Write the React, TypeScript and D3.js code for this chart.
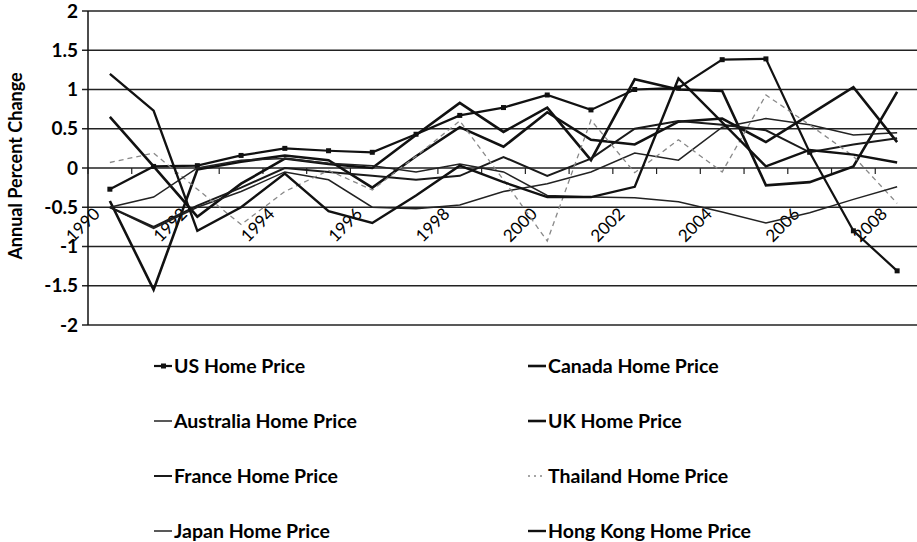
import React, { useEffect, useRef } from "react";
import * as d3 from "d3";

// years on the category axis
const years = [1990, 1991, 1992, 1993, 1994, 1995, 1996, 1997, 1998, 1999, 2000, 2001, 2002, 2003, 2004, 2005, 2006, 2007, 2008];
const yTicks = [-2, -1.5, -1, -0.5, 0, 0.5, 1, 1.5, 2];

// series values
const usHome = [-0.27, 0.02, 0.03, 0.16, 0.25, 0.22, 0.2, 0.43, 0.67, 0.77, 0.93, 0.74, 1.0, 1.02, 1.38, 1.39, 0.2, -0.8, -1.31];
const canadaHome = [0.65, 0.02, -0.62, -0.2, 0.12, 0.05, 0.0, 0.42, 0.83, 0.46, 0.77, 0.1, 1.13, 1.0, 0.98, -0.22, -0.18, 0.02, 0.97];
const australiaHome = [-0.5, -0.77, -0.5, -0.3, -0.05, -0.15, -0.5, -0.52, -0.47, -0.3, -0.2, -0.05, 0.19, 0.1, 0.52, 0.63, 0.55, 0.42, 0.45];
const ukHome = [-0.42, -1.55, -0.02, 0.08, 0.16, 0.1, -0.25, 0.15, 0.52, 0.27, 0.71, 0.36, 0.3, 0.59, 0.63, 0.33, 0.68, 1.03, 0.33];
const franceHome = [-0.5, -0.75, -0.48, -0.25, 0.0, -0.05, -0.1, -0.15, -0.1, 0.14, -0.1, 0.12, 0.5, 0.6, 0.55, 0.48, 0.2, 0.3, 0.38];
const thailandHome = [0.07, 0.19, -0.27, -0.72, -0.3, -0.03, -0.28, 0.15, 0.6, -0.15, -0.93, 0.61, -0.06, 0.36, -0.05, 0.93, 0.55, 0.15, -0.45];
const japanHome = [-0.5, -0.37, 0.0, 0.1, 0.12, 0.06, 0.03, -0.05, 0.05, -0.05, -0.35, -0.37, -0.38, -0.43, -0.56, -0.7, -0.57, -0.4, -0.24];
const hongKongHome = [1.2, 0.73, -0.8, -0.5, -0.07, -0.55, -0.7, -0.35, 0.03, -0.18, -0.37, -0.37, -0.24, 1.14, 0.58, 0.02, 0.23, 0.17, 0.07];

const seriesNames = ["US Home Price", "Canada Home Price", "Australia Home Price", "UK Home Price", "France Home Price", "Thailand Home Price", "Japan Home Price", "Hong Kong Home Price"];
const seriesValues = [usHome, canadaHome, australiaHome, ukHome, franceHome, thailandHome, japanHome, hongKongHome];

const styles = [
    { color: "#111", width: 2.2, dash: "", marker: true },
    { color: "#111", width: 2.6, dash: "", marker: false },
    { color: "#222", width: 1.5, dash: "", marker: false },
    { color: "#111", width: 2.6, dash: "", marker: false },
    { color: "#1a1a1a", width: 2.0, dash: "", marker: false },
    { color: "#888", width: 1.3, dash: "5,4", marker: false },
    { color: "#222", width: 1.5, dash: "", marker: false },
    { color: "#111", width: 2.4, dash: "", marker: false }
];

const font = "Lato, 'Open Sans', sans-serif";

export default function App()
{
    const ref = useRef<SVGSVGElement>(null);

    useEffect(() =>
    {
        const svg = d3.select(ref.current);
        svg.selectAll("*").remove();

        const x = d3.scaleBand<number>().domain(years).range([88, 919]);
        const y = d3.scaleLinear().domain([-2, 2]).range([325, 11]);
        const cx = (yr: number) => (x(yr) as number) + x.bandwidth() / 2;

        // gridlines
        svg.append("g")
            .selectAll("line")
            .data(yTicks)
            .enter()
            .append("line")
            .attr("x1", 82)
            .attr("x2", 919)
            .attr("y1", d => y(d))
            .attr("y2", d => y(d))
            .attr("stroke", "#222")
            .attr("stroke-width", 1.3);

        // y axis
        svg.append("line")
            .attr("x1", 88).attr("x2", 88)
            .attr("y1", y(2)).attr("y2", y(-2))
            .attr("stroke", "#111").attr("stroke-width", 1.5);

        svg.append("g")
            .selectAll("text")
            .data(yTicks)
            .enter()
            .append("text")
            .attr("x", 78)
            .attr("y", d => y(d))
            .attr("dy", "0.35em")
            .attr("text-anchor", "end")
            .attr("font-family", font)
            .attr("font-weight", "bold")
            .attr("font-size", 19)
            .text(d => String(d));

        svg.append("text")
            .attr("transform", `translate(22, ${y(0) - 2}) rotate(-90)`)
            .attr("text-anchor", "middle")
            .attr("font-family", font)
            .attr("font-weight", "bold")
            .attr("font-size", 18)
            .text("Annual Percent Change");

        // category axis on zero line
        const bounds = d3.range(years.length + 1).map(i => 88 + i * x.bandwidth());
        svg.append("g")
            .selectAll("line")
            .data(bounds)
            .enter()
            .append("line")
            .attr("x1", d => d).attr("x2", d => d)
            .attr("y1", y(0)).attr("y2", y(0) + 6)
            .attr("stroke", "#222").attr("stroke-width", 1.2);

        svg.append("g")
            .selectAll("text")
            .data(years.filter(d => d % 2 === 0))
            .enter()
            .append("text")
            .attr("transform", d => `translate(${cx(d) - 9}, ${y(0) + 47}) rotate(-45)`)
            .attr("text-anchor", "end")
            .attr("font-family", font)
            .attr("font-size", 17)
            .text(d => d);

        // lines
        const line = d3.line<number>()
            .x((d, i) => cx(years[i]))
            .y(d => y(d));

        seriesValues.forEach((vals, k) =>
        {
            const s = styles[k];
            svg.append("path")
                .datum(vals)
                .attr("d", line)
                .attr("fill", "none")
                .attr("stroke", s.color)
                .attr("stroke-width", s.width)
                .attr("stroke-dasharray", s.dash)
                .attr("stroke-linejoin", "miter");
            if (s.marker)
            {
                svg.append("g")
                    .selectAll("rect")
                    .data(vals)
                    .enter()
                    .append("rect")
                    .attr("x", (d, i) => cx(years[i]) - 2.5)
                    .attr("y", d => y(d) - 2.5)
                    .attr("width", 5)
                    .attr("height", 5)
                    .attr("fill", "#111");
            }
        });

        // legend, two columns
        const legend = svg.append("g");
        seriesNames.forEach((name, k) =>
        {
            const col = k % 2;
            const row = Math.floor(k / 2);
            const lx = col === 0 ? 154 : 528;
            const ly = 366 + row * 55;
            const s = styles[k];
            legend.append("line")
                .attr("x1", lx).attr("x2", lx + 18)
                .attr("y1", ly).attr("y2", ly)
                .attr("stroke", s.color)
                .attr("stroke-width", s.width)
                .attr("stroke-dasharray", k === 5 ? "2,4" : "");
            if (s.marker)
            {
                legend.append("rect")
                    .attr("x", lx + 7).attr("y", ly - 2.5)
                    .attr("width", 5).attr("height", 5)
                    .attr("fill", "#111");
            }
            legend.append("text")
                .attr("x", lx + 20)
                .attr("y", ly)
                .attr("dy", "0.35em")
                .attr("font-family", font)
                .attr("font-weight", "bold")
                .attr("font-size", 19.5)
                .text(name);
        });
    }, []);

    return (
        <svg ref={ref} width={917} height={542}
            style={{ position: "absolute", left: 0, top: 0, background: "#fff" }} />
    );
}
